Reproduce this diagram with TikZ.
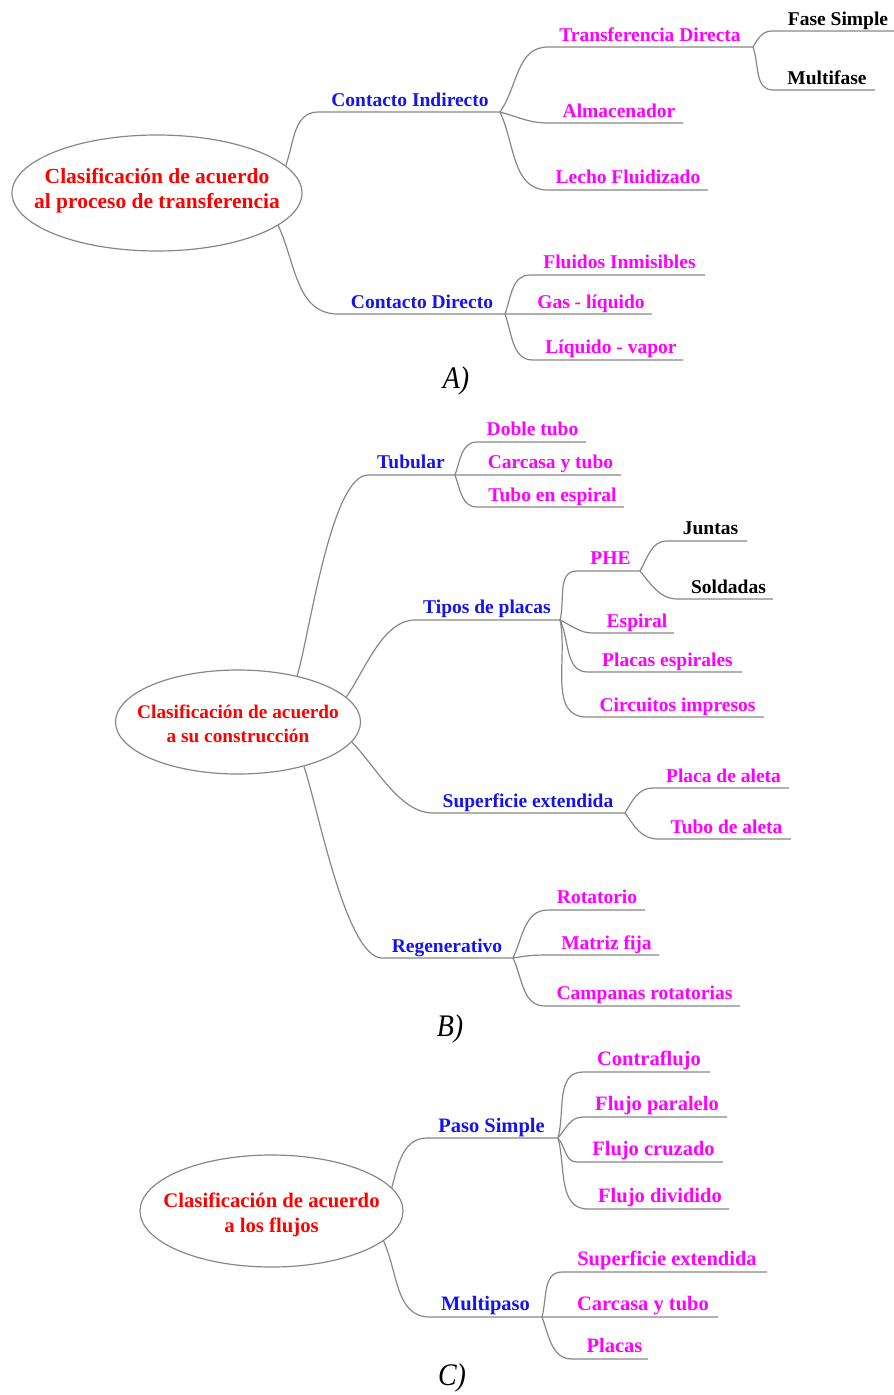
\documentclass[tikz,border=0pt]{standalone}
\usepackage{fontspec}
\setmainfont{Liberation Serif}
\usetikzlibrary{shapes.geometric}

\definecolor{edgegray}{RGB}{135,135,135}
\definecolor{lblblue}{RGB}{20,20,235}
\definecolor{lblmag}{RGB}{255,0,255}

\tikzset{
  edge/.style={draw=edgegray, line width=1.2pt},
  rootshape/.style={ellipse, draw=edgegray, line width=1.2pt, inner sep=0pt},
  roottext/.style={text=red, align=center, inner sep=0pt},
  lvl1/.style={text=lblblue, anchor=base, inner sep=0pt},
  lvl2/.style={text=lblmag, anchor=base, inner sep=0pt},
  lvl3/.style={text=black, anchor=base, inner sep=0pt},
  tag/.style={anchor=base, inner sep=0pt, font=\itshape\fontsize{28}{30}\selectfont}
}

\begin{document}
\begin{tikzpicture}[x=1pt, y=-1pt]
\useasboundingbox (0,0) rectangle (894,1395);

% A) proceso de transferencia
\begin{scope}[every node/.append style={font=\bfseries\fontsize{19.5}{23}\selectfont}]
  \node(a-root)[rootshape, minimum width=290, minimum height=116] at (157,193) {};
  \node(a-title)[roottext, yshift=2pt, font=\bfseries\fontsize{21.5}{25}\selectfont] at (a-root) {Clasificación de acuerdo\\al proceso de transferencia};

  \node(a-ci)[lvl1] at (410,106) {Contacto Indirecto};
  \coordinate (a-ci-s) at (318,112); \coordinate (a-ci-e) at (500,112);
  \node(a-td)[lvl2] at (650,41) {Transferencia Directa};
  \coordinate (a-td-s) at (548,47); \coordinate (a-td-e) at (753,47);
  \node(a-fs)[lvl3] at (838,25) {Fase Simple};
  \coordinate (a-fs-s) at (772,31); \coordinate (a-fs-e) at (894,31);
  \node(a-mf)[lvl3] at (827,84) {Multifase};
  \coordinate (a-mf-s) at (773,90); \coordinate (a-mf-e) at (875,90);
  \node(a-al)[lvl2] at (619,117) {Almacenador};
  \coordinate (a-al-s) at (548,123); \coordinate (a-al-e) at (683,123);
  \node(a-lf)[lvl2] at (628,183) {Lecho Fluidizado};
  \coordinate (a-lf-s) at (548,190); \coordinate (a-lf-e) at (708,190);

  \node(a-cd)[lvl1] at (422,308) {Contacto Directo};
  \coordinate (a-cd-s) at (338,314); \coordinate (a-cd-e) at (505,314);
  \node(a-fi)[lvl2] at (619.5,268) {Fluidos Inmisibles};
  \coordinate (a-fi-s) at (530,275); \coordinate (a-fi-e) at (705,275);
  \node(a-gl)[lvl2] at (591,308) {Gas - líquido};
  \coordinate (a-gl-e) at (652,314);
  \node(a-lv)[lvl2] at (611,353) {Líquido - vapor};
  \coordinate (a-lv-s) at (533,360); \coordinate (a-lv-e) at (683,360);
\end{scope}

\draw[edge] (a-root.12) to[out=70,in=180] (a-ci-s) -- (a-ci-e);
\draw[edge] (a-ci-e) to[out=55,in=180] (a-td-s) -- (a-td-e);
\draw[edge] (a-td-e) to[out=60,in=180] (a-fs-s) -- (a-fs-e);
\draw[edge] (a-td-e) to[out=-70,in=180] (a-mf-s) -- (a-mf-e);
\draw[edge] (a-ci-e) to[out=-15,in=180] (a-al-s) -- (a-al-e);
\draw[edge] (a-ci-e) to[out=-65,in=180] (a-lf-s) -- (a-lf-e);
\draw[edge] (a-root.-15) to[out=-65,in=180] (a-cd-s) -- (a-cd-e) -- (a-gl-e);
\draw[edge] (a-cd-e) to[out=70,in=180] (a-fi-s) -- (a-fi-e);
\draw[edge] (a-cd-e) to[out=-70,in=180] (a-lv-s) -- (a-lv-e);

\node(a-tag)[tag] at (456,388) {\scalebox{1}[1.12]{A)}};

% B) construccion
\begin{scope}[every node/.append style={font=\bfseries\fontsize{19.5}{23}\selectfont}]
  \node(b-root)[rootshape, minimum width=245, minimum height=104] at (238,722) {};
  \node(b-title)[roottext, yshift=-2pt, font=\bfseries\fontsize{19.3}{24}\selectfont] at (b-root) {Clasificación de acuerdo\\a su construcción};

  \node(b-tu)[lvl1] at (411,468) {Tubular};
  \coordinate (b-tu-s) at (368,475); \coordinate (b-tu-e) at (455,475);
  \node(b-dt)[lvl2] at (532.5,435) {Doble tubo};
  \coordinate (b-dt-s) at (477,442); \coordinate (b-dt-e) at (586,442);
  \node(b-ct)[lvl2] at (550.5,468) {Carcasa y tubo};
  \coordinate (b-ct-e) at (621,475);
  \node(b-te)[lvl2] at (552.5,501) {Tubo en espiral};
  \coordinate (b-te-s) at (477,507); \coordinate (b-te-e) at (624,507);

  \node(b-tp)[lvl1] at (487,613) {Tipos de placas};
  \coordinate (b-tp-s) at (415,620); \coordinate (b-tp-e) at (560,620);
  \node(b-phe)[lvl2] at (610.5,564) {PHE};
  \coordinate (b-phe-s) at (577,571); \coordinate (b-phe-e) at (640,571);
  \node(b-ju)[lvl3] at (710.5,534) {Juntas};
  \coordinate (b-ju-s) at (667,541); \coordinate (b-ju-e) at (747,541);
  \node(b-so)[lvl3] at (728.5,593) {Soldadas};
  \coordinate (b-so-s) at (678,599); \coordinate (b-so-e) at (773,599);
  \node(b-es)[lvl2] at (637,627) {Espiral};
  \coordinate (b-es-s) at (593,633); \coordinate (b-es-e) at (674,633);
  \node(b-pe)[lvl2] at (667.5,666) {Placas espirales};
  \coordinate (b-pe-s) at (588,672); \coordinate (b-pe-e) at (742,672);
  \node(b-ci)[lvl2] at (677.5,711) {Circuitos impresos};
  \coordinate (b-ci-s) at (587,717); \coordinate (b-ci-e) at (764,717);

  \node(b-se)[lvl1] at (528,807) {Superficie extendida};
  \coordinate (b-se-s) at (433,813); \coordinate (b-se-e) at (625,813);
  \node(b-pa)[lvl2] at (723.5,782) {Placa de aleta};
  \coordinate (b-pa-s) at (653,788); \coordinate (b-pa-e) at (789,788);
  \node(b-ta)[lvl2] at (726.5,833) {Tubo de aleta};
  \coordinate (b-ta-s) at (658,839); \coordinate (b-ta-e) at (791,839);

  \node(b-re)[lvl1] at (447,952) {Regenerativo};
  \coordinate (b-re-s) at (382,958); \coordinate (b-re-e) at (513,958);
  \node(b-ro)[lvl2] at (597,903) {Rotatorio};
  \coordinate (b-ro-s) at (548,910); \coordinate (b-ro-e) at (645,910);
  \node(b-mf)[lvl2] at (606.5,949) {Matriz fija};
  \coordinate (b-mf-s) at (548,955); \coordinate (b-mf-e) at (659,955);
  \node(b-cr)[lvl2] at (644.5,999) {Campanas rotatorias};
  \coordinate (b-cr-s) at (545,1006); \coordinate (b-cr-e) at (740,1006);
\end{scope}

\draw[edge] (b-root.38) to[out=72,in=180,looseness=0.45] (b-tu-s) -- (b-tu-e) -- (b-ct-e);
\draw[edge] (b-tu-e) to[out=70,in=180] (b-dt-s) -- (b-dt-e);
\draw[edge] (b-tu-e) to[out=-70,in=180] (b-te-s) -- (b-te-e);
\draw[edge] (b-root.13) to[out=55,in=180,looseness=0.8] (b-tp-s) -- (b-tp-e);
\draw[edge] (b-tp-e) to[out=75,in=180] (b-phe-s) -- (b-phe-e);
\draw[edge] (b-phe-e) to[out=60,in=180] (b-ju-s) -- (b-ju-e);
\draw[edge] (b-phe-e) to[out=-50,in=180] (b-so-s) -- (b-so-e);
\draw[edge] (b-tp-e) to[out=-25,in=180] (b-es-s) -- (b-es-e);
\draw[edge] (b-tp-e) to[out=-65,in=180] (b-pe-s) -- (b-pe-e);
\draw[edge] (b-tp-e) to[out=-78,in=180] (b-ci-s) -- (b-ci-e);
\draw[edge] (b-root.-10) to[out=-45,in=180,looseness=0.8] (b-se-s) -- (b-se-e);
\draw[edge] (b-se-e) to[out=60,in=180] (b-pa-s) -- (b-pa-e);
\draw[edge] (b-se-e) to[out=-55,in=180] (b-ta-s) -- (b-ta-e);
\draw[edge] (b-root.-34) to[out=-70,in=180,looseness=0.45] (b-re-s) -- (b-re-e);
\draw[edge] (b-re-e) to[out=65,in=180] (b-ro-s) -- (b-ro-e);
\draw[edge] (b-re-e) to[out=10,in=180] (b-mf-s) -- (b-mf-e);
\draw[edge] (b-re-e) to[out=-65,in=180] (b-cr-s) -- (b-cr-e);

\node(b-tag)[tag] at (450,1036) {\scalebox{1}[1.12]{B)}};

% C) flujos
\begin{scope}[every node/.append style={font=\bfseries\fontsize{20.5}{24}\selectfont}]
  \node(c-root)[rootshape, minimum width=263, minimum height=112] at (271.5,1211) {};
  \node(c-title)[roottext, yshift=-3.5pt, font=\bfseries\fontsize{20.7}{25}\selectfont] at (c-root) {Clasificación de acuerdo\\a los flujos};

  \node(c-ps)[lvl1] at (491.5,1132) {Paso Simple};
  \coordinate (c-ps-s) at (427,1138); \coordinate (c-ps-e) at (558,1138);
  \node(c-co)[lvl2] at (649,1065) {Contraflujo};
  \coordinate (c-co-s) at (583,1072); \coordinate (c-co-e) at (710,1072);
  \node(c-fp)[lvl2] at (657,1110) {Flujo paralelo};
  \coordinate (c-fp-s) at (583,1117); \coordinate (c-fp-e) at (727,1117);
  \node(c-fc)[lvl2] at (653.5,1155) {Flujo cruzado};
  \coordinate (c-fc-s) at (577,1162); \coordinate (c-fc-e) at (723,1162);
  \node(c-fd)[lvl2] at (660,1202) {Flujo dividido};
  \coordinate (c-fd-s) at (588,1209); \coordinate (c-fd-e) at (729,1209);

  \node(c-mp)[lvl1] at (485.5,1310) {Multipaso};
  \coordinate (c-mp-s) at (430,1317); \coordinate (c-mp-e) at (542,1317);
  \node(c-sx)[lvl2] at (667,1265) {Superficie extendida};
  \coordinate (c-sx-s) at (562,1272); \coordinate (c-sx-e) at (767,1272);
  \node(c-cy)[lvl2] at (643,1310) {Carcasa y tubo};
  \coordinate (c-cy-e) at (718,1317);
  \node(c-pl)[lvl2] at (614.5,1352) {Placas};
  \coordinate (c-pl-s) at (572,1359); \coordinate (c-pl-e) at (648,1359);
\end{scope}

\draw[edge] (c-root.11) to[out=75,in=180] (c-ps-s) -- (c-ps-e);
\draw[edge] (c-ps-e) to[out=75,in=180] (c-co-s) -- (c-co-e);
\draw[edge] (c-ps-e) to[out=50,in=180] (c-fp-s) -- (c-fp-e);
\draw[edge] (c-ps-e) to[out=-50,in=180] (c-fc-s) -- (c-fc-e);
\draw[edge] (c-ps-e) to[out=-75,in=180] (c-fd-s) -- (c-fd-e);
\draw[edge] (c-root.-15) to[out=-65,in=180] (c-mp-s) -- (c-mp-e) -- (c-cy-e);
\draw[edge] (c-mp-e) to[out=75,in=180] (c-sx-s) -- (c-sx-e);
\draw[edge] (c-mp-e) to[out=-70,in=180] (c-pl-s) -- (c-pl-e);

\node(c-tag)[tag] at (452,1385) {\scalebox{1}[1.12]{C)}};
\end{tikzpicture}
\end{document}
